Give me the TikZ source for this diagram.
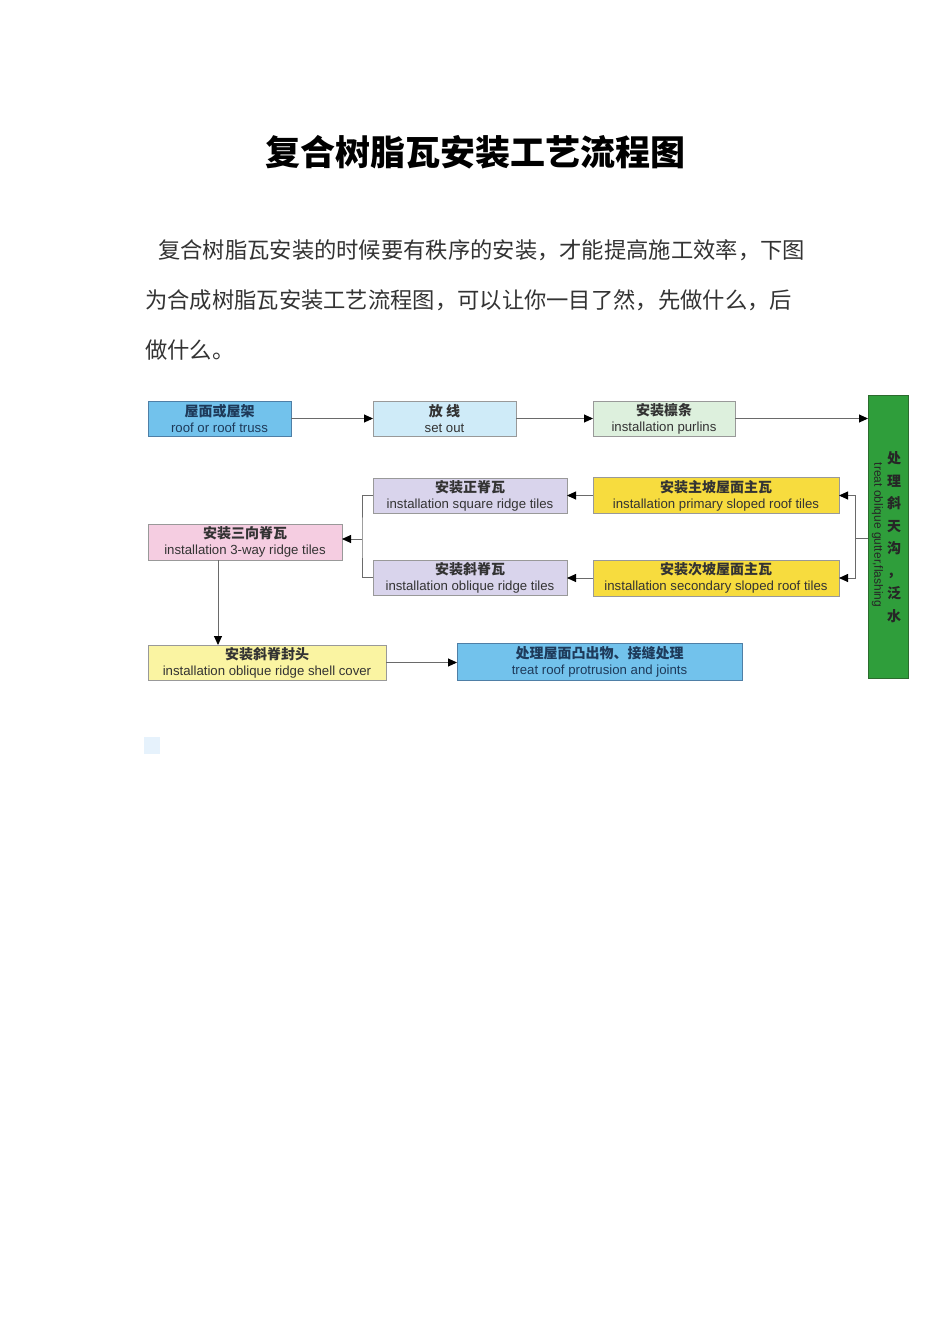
\documentclass[tikz,border=0pt]{standalone}
\usepackage{fontspec}
\setmainfont{Liberation Sans}
\newfontfamily\cjk{Noto Sans CJK SC}
\usetikzlibrary{arrows.meta}
\definecolor{txt}{HTML}{333333}
\definecolor{linegray}{HTML}{6A6A6A}
\definecolor{bblue}{HTML}{72C2EC}
\definecolor{bbluedraw}{HTML}{4F7FA6}
\definecolor{lblue}{HTML}{CFEBF8}
\definecolor{lgreen}{HTML}{DDF0DD}
\definecolor{lav}{HTML}{D9D4EC}
\definecolor{pinkb}{HTML}{F5CDE1}
\definecolor{yel}{HTML}{F7DC3E}
\definecolor{lyel}{HTML}{FAF4A2}
\definecolor{grn}{HTML}{2F9E3B}
\definecolor{grndraw}{HTML}{2C6B2E}
\definecolor{navy}{HTML}{1E3A5A}
\definecolor{sq}{HTML}{E6F2FC}
\newcommand\twoline[2]{{\cjk\bfseries\fontsize{14}{16}\selectfont #1}\\{\fontsize{13.2}{16}\selectfont #2}}
\tikzset{
  boxs/.style={rectangle, inner sep=0pt, outer sep=0pt, line width=0.9pt, align=center, text=txt, font=\fontsize{13}{16}\selectfont},
  arr/.style={draw=linegray, line width=0.9pt, -{Triangle[length=9pt,width=8pt,color=black]}},
  ln/.style={draw=linegray, line width=0.9pt},
}
\begin{document}
\begin{tikzpicture}[x=1pt,y=-1pt]
\useasboundingbox[fill=white] (0,0) rectangle (950,1344);

% title and paragraph
\node[font=\cjk\bfseries\fontsize{35}{40}\selectfont, text=black] (title) at (475,152) {复合树脂瓦安装工艺流程图};
\node[font=\cjk\fontsize{22.3}{26}\selectfont, text=txt, anchor=west, inner sep=0pt] (p1) at (158,250) {复合树脂瓦安装的时候要有秩序的安装，才能提高施工效率，下图};
\node[font=\cjk\fontsize{22.3}{26}\selectfont, text=txt, anchor=west, inner sep=0pt] (p2) at (145,300) {为合成树脂瓦安装工艺流程图，可以让你一目了然，先做什么，后};
\node[font=\cjk\fontsize{22.3}{26}\selectfont, text=txt, anchor=west, inner sep=0pt] (p3) at (145,350) {做什么。};

% boxes
\node[boxs, fill=bblue, draw=bbluedraw, text=navy, minimum width=143pt, minimum height=35pt] (b1) at (219.5,418.5) {\twoline{屋面或屋架}{roof or roof truss}};
\node[boxs, fill=lblue, draw=gray!80, minimum width=143pt, minimum height=35pt] (b2) at (444.5,418.5) {\twoline{放\ 线}{set out}};
\node[boxs, fill=lgreen, draw=gray!80, minimum width=142pt, minimum height=35pt] (b3) at (664,418.5) {\twoline{安装檩条}{installation purlins}};
\node[boxs, fill=grn, draw=grndraw, minimum width=40pt, minimum height=283pt] (g) at (888,536.5) {};
\node[boxs, fill=lav, draw=gray!80, minimum width=194pt, minimum height=35pt] (zj) at (470,495.5) {\twoline{安装正脊瓦}{installation square ridge tiles}};
\node[boxs, fill=lav, draw=gray!80, minimum width=194pt, minimum height=35pt] (xj) at (470,577.5) {\twoline{安装斜脊瓦}{installation oblique ridge tiles}};
\node[boxs, fill=yel, draw=gray!80, minimum width=246pt, minimum height=36pt] (zp) at (716,495.5) {\twoline{安装主坡屋面主瓦}{installation primary sloped roof tiles}};
\node[boxs, fill=yel, draw=gray!80, minimum width=246pt, minimum height=36pt] (cp) at (716,578) {\twoline{安装次坡屋面主瓦}{installation secondary sloped roof tiles}};
\node[boxs, fill=pinkb, draw=gray!80, minimum width=194pt, minimum height=36pt] (sx) at (245,542) {\twoline{安装三向脊瓦}{installation 3-way ridge tiles}};
\node[boxs, fill=lyel, draw=gray!80, minimum width=238pt, minimum height=35pt] (ft) at (267,662.5) {\twoline{安装斜脊封头}{installation oblique ridge shell cover}};
\node[boxs, fill=bblue, draw=bbluedraw, text=navy, minimum width=285pt, minimum height=37pt] (tc) at (599.5,661.5) {\twoline{处理屋面凸出物、接缝处理}{treat roof protrusion and joints}};

% green box texts
\node[font=\cjk\bfseries\fontsize{14}{22.5}\selectfont, text=black!85, align=center, inner sep=0pt] (gcn) at (894,537) {处\\理\\斜\\天\\沟\\，\\泛\\水};
\node[font=\fontsize{12}{14}\selectfont, text=black!85, rotate=-90, inner sep=0pt] (gen) at (877.5,535) {treat oblique gutter,flashing};

% junction coordinates
\coordinate (jR) at (855,538);
\coordinate (jL) at (362,539);
\coordinate (c1) at (218,560);

% connectors
\draw[arr] (b1) -- (b2);
\draw[arr] (b2) -- (b3);
\draw[arr] (b3.east) -- (b3.east -| g.west);
\draw[ln] (jR -| g.west) -- (jR);
\draw[arr] (jR) |- (zp.east);
\draw[arr] (jR) |- (cp.east);
\draw[arr] (zp.west) -- (zp.west -| zj.east);
\draw[arr] (cp.west) -- (cp.west -| xj.east);
\draw[ln] (zj.west) -| (jL) |- (xj.west);
\draw[arr] (jL) -- (jL -| sx.east);
\draw[arr] (c1) -- (c1 |- ft.north);
\draw[arr] (ft.east) -- (ft.east -| tc.west);

% small light square
\fill[sq] (144,737) rectangle (160,754);
\end{tikzpicture}
\end{document}
